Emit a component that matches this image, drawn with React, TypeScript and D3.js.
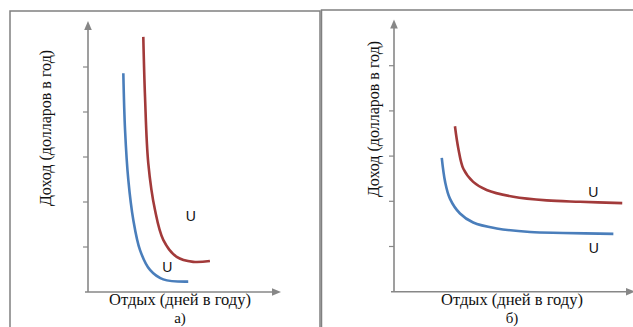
import * as d3 from "d3";

type Pt = [number, number];

// panel a: steep indifference curves (x = days of leisure, y = income)
const blueA: Pt[] = [
  [18.4, 48.6], [19.3, 36.0], [21.0, 24.9], [23.6, 16.0], [27.1, 9.3],
  [32.3, 4.9], [39.2, 2.8], [52.2, 2.3],
];
const redA: Pt[] = [
  [28.8, 56.7], [29.7, 43.4], [31.4, 28.6], [34.9, 18.2], [39.2, 11.6],
  [46.2, 7.8], [54.8, 6.7], [63.5, 6.9],
];

// panel b: flat indifference curves
const redB: Pt[] = [
  [25.4, 36.6], [26.8, 31.7], [28.9, 27.2], [33.0, 24.3], [38.6, 22.5],
  [49.7, 21.0], [63.6, 20.2], [77.5, 19.9], [95.1, 19.6],
];
const blueB: Pt[] = [
  [19.9, 29.6], [21.3, 24.3], [23.3, 20.6], [27.5, 17.3], [33.0, 15.3],
  [42.8, 14.0], [56.7, 13.2], [70.5, 13.0], [91.4, 12.8],
];

const yTicks = [10, 20, 30, 40, 50];
const yTitle = "Доход (долларов в год)";
const xTitle = "Отдых (дней в году)";
const panelLabels = ["а)", "б)"];
const curveLabel = "U";

const axisColor = "#878787";
const blue = "#4a7ebb";
const red = "#a23a3a";
const serif = "Liberation Serif";
const sans = "Liberation Sans";

type PanelProps = {
  x0: number;
  x1: number;
  yTop: number;
  yBottom: number;
  curves: { data: Pt[]; color: string }[];
  labels: Pt[];
  titleX: number;
  titleY: number;
  xTitleX: number;
  caption: string;
};

function Panel({ x0, x1, yTop, yBottom, curves, labels, titleX, titleY, xTitleX, caption }: PanelProps) {
  const x = d3.scaleLinear().domain([0, 100]).range([x0, x1]);
  const y = d3.scaleLinear().domain([0, 60]).range([yBottom, yTop]);
  const line = d3
    .line<Pt>()
    .x((d) => x(d[0]))
    .y((d) => y(d[1]))
    .curve(d3.curveCatmullRom.alpha(0.5));

  const ax = x(0);
  const ay = y(0);
  return (
    <g>
      {/* axes */}
      <line x1={ax} y1={ay} x2={ax} y2={y(60) + 6} stroke={axisColor} strokeWidth={1.6} />
      <path d={`M${ax},${y(60) - 1}L${ax - 3.8},${y(60) + 8}L${ax + 3.8},${y(60) + 8}Z`} fill={axisColor} />
      <line x1={ax - 3} y1={ay} x2={x(100) - 6} y2={ay} stroke={axisColor} strokeWidth={1.6} />
      <path d={`M${x(100) + 1},${ay}L${x(100) - 8},${ay - 3.8}L${x(100) - 8},${ay + 3.8}Z`} fill={axisColor} />
      {yTicks.map((t) => (
        <line key={t} x1={ax - 5} x2={ax} y1={y(t)} y2={y(t)} stroke={axisColor} strokeWidth={1.2} />
      ))}

      {curves.map((c, i) => (
        <path key={i} d={line(c.data) ?? ""} fill="none" stroke={c.color} strokeWidth={2.6} />
      ))}

      {labels.map((p, i) => (
        <text
          key={i}
          x={x(p[0])}
          y={y(p[1])}
          style={{ fontFamily: sans, fontSize: "14px" }}
          textAnchor="middle"
          dominantBaseline="central"
          fill="#111"
        >
          {curveLabel}
        </text>
      ))}

      <text
        transform={`translate(${titleX},${titleY}) rotate(-90)`}
        style={{ fontFamily: serif, fontSize: "16px" }}
        textAnchor="middle"
        dominantBaseline="central"
        fill="#111"
      >
        {yTitle}
      </text>
      <text x={xTitleX} y={305} style={{ fontFamily: serif, fontSize: "16.5px" }} textAnchor="middle" fill="#111">
        {xTitle}
      </text>
      <text x={xTitleX} y={323} style={{ fontFamily: serif, fontSize: "15px" }} textAnchor="middle" fill="#111">
        {caption}
      </text>
    </g>
  );
}

export default function App() {
  return (
    <div style={{ position: "absolute", left: 0, top: 0 }}>
      <svg width={633} height={327} style={{ display: "block", background: "#fff" }}>
        {/* panel frames */}
        <path d="M10,340V11H320V340" fill="none" stroke="#808080" strokeWidth={1.5} />
        <path d="M321.5,340V10H650" fill="none" stroke="#808080" strokeWidth={1.5} />

        <Panel
          x0={88}
          x1={280}
          yTop={22}
          yBottom={292}
          curves={[
            { data: blueA, color: blue },
            { data: redA, color: red },
          ]}
          labels={[
            [53.6, 16.9],
            [41.3, 5.5],
          ]}
          titleX={45}
          titleY={128}
          xTitleX={180}
          caption={panelLabels[0]}
        />
        <Panel
          x0={394}
          x1={634}
          yTop={20.5}
          yBottom={291.7}
          curves={[
            { data: blueB, color: blue },
            { data: redB, color: red },
          ]}
          labels={[
            [83, 22.1],
            [83.3, 9.6],
          ]}
          titleX={373}
          titleY={119}
          xTitleX={512}
          caption={panelLabels[1]}
        />
      </svg>
    </div>
  );
}
